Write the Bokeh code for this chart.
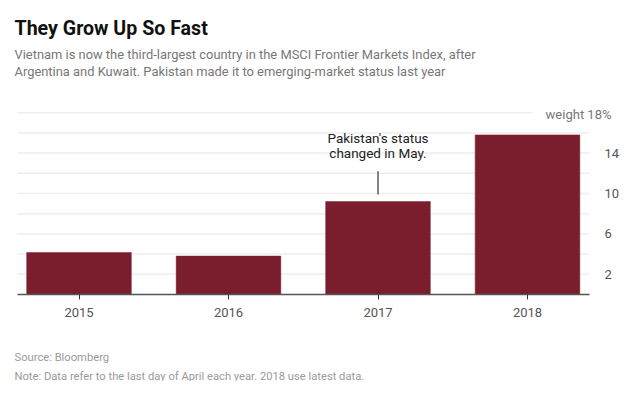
from bokeh.plotting import figure
from bokeh.models import Range1d, FixedTicker, Label
from bokeh.embed import file_html
from bokeh.resources import INLINE

years = ["2015", "2016", "2017", "2018"]
weights = [4.15, 3.8, 9.2, 15.8]
y_ticks = [2, 6, 10, 14]
grid_ticks = [2, 4, 6, 8, 10, 12, 14, 16]
y_top_tick = 18
note_year_index = 2
note_line = [9.9, 12.2]

title = "They Grow Up So Fast"
subtitle = ["Vietnam is now the third-largest country in the MSCI Frontier Markets Index, after",
            "Argentina and Kuwait. Pakistan made it to emerging-market status last year"]
annotation = ["Pakistan's status", "changed in May."]
unit_label = "weight 18%"
source = "Source: Bloomberg"
note = "Note: Data refer to the last day of April each year. 2018 use latest data."

FONT = "Roboto"
BAR = "#7a1e2e"
W, H = 624, 381

# pixel geometry of the chart area (canvas px, y from top)
PL, PR = 17, 589          # plot area left/right
BASE = 294.0              # y = 0 baseline
PX_UNIT = 10.1            # px per percentage point
STEP = 149.5              # px between bar centres
C0 = 78.5                 # first bar centre

xs = list(range(len(years)))
x_start = -C0 / STEP
x_end = (W - C0) / STEP
x_left = (PL - C0) / STEP
x_right = (PR - C0) / STEP
y_start = (BASE - H) / PX_UNIT
y_end = BASE / PX_UNIT

p = figure(width=W, height=H, output_backend="svg", toolbar_location=None,
           x_range=Range1d(x_start, x_end), y_range=Range1d(y_start, y_end),
           y_axis_location="right", min_border=0)
p.min_border_left = p.min_border_right = p.min_border_top = p.min_border_bottom = 0
p.outline_line_color = None
p.grid.visible = False

# gridlines
n = len(grid_ticks)
p.segment(x0=[x_left] * n, y0=grid_ticks, x1=[x_right] * n, y1=grid_ticks,
          line_color="#eeeeee", line_width=1.5)
p.segment(x0=[x_left], y0=[y_top_tick], x1=[(532 - C0) / STEP], y1=[y_top_tick],
          line_color="#eeeeee", line_width=1.5)

p.vbar(x=xs, top=weights, bottom=0, width=0.7, fill_color=BAR, line_color=BAR, line_width=0.5)

# annotation
p.segment(x0=[note_year_index], y0=[note_line[0]], x1=[note_year_index], y1=[note_line[1]],
          line_color="#333333", line_width=1.2)


def sy(py):
    return H - py


for i, t in enumerate(annotation):
    p.add_layout(Label(x=note_year_index, y=sy(137.7 + 15 * i), y_units="screen", text=t,
                       text_align="center", text_baseline="middle",
                       text_font=FONT, text_font_size="13.5px", text_color="#222222"))

# x axis
p.xaxis.fixed_location = 0
p.xaxis.bounds = (x_left, x_right)
p.xaxis.ticker = FixedTicker(ticks=xs)
p.xaxis.major_label_overrides = {i: y for i, y in zip(xs, years)}
p.xaxis.axis_line_color = "#555555"
p.xaxis.axis_line_width = 1.3
p.xaxis.major_tick_line_color = "#333333"
p.xaxis.major_tick_in = 0
p.xaxis.major_tick_out = 5
p.xaxis.minor_tick_line_color = None
p.xaxis.major_label_text_font = FONT
p.xaxis.major_label_text_font_size = "13px"
p.xaxis.major_label_text_color = "#555555"
p.xaxis.major_label_standoff = 8

# y axis (right)
p.yaxis.fixed_location = x_right
p.yaxis.ticker = FixedTicker(ticks=y_ticks)
p.yaxis.axis_line_color = None
p.yaxis.major_tick_line_color = None
p.yaxis.minor_tick_line_color = None
p.yaxis.major_label_text_font = FONT
p.yaxis.major_label_text_font_size = "13px"
p.yaxis.major_label_text_color = "#555555"
p.yaxis.major_label_standoff = 9

p.add_layout(Label(x=611, y=sy(114), x_units="screen", y_units="screen",
                   text=unit_label, text_align="right", text_baseline="middle",
                   text_font=FONT, text_font_size="13px", text_color="#777777"))

# titles and notes
p.add_layout(Label(x=14, y=sy(28.3), x_units="screen", y_units="screen", text=title,
                   text_font=FONT, text_font_style="bold", text_font_size="19.6px",
                   text_color="#111111", text_baseline="middle"))
for i, t in enumerate(subtitle):
    p.add_layout(Label(x=14, y=sy(53.8 + 17.2 * i), x_units="screen", y_units="screen",
                       text=t, text_font=FONT, text_font_size="12.9px", text_color="#777777",
                       text_baseline="middle"))
p.add_layout(Label(x=14, y=sy(356.5), x_units="screen", y_units="screen", text=source,
                   text_font=FONT, text_font_size="11.2px", text_color="#9a9a9a",
                   text_baseline="middle"))
p.add_layout(Label(x=14, y=sy(375.5), x_units="screen", y_units="screen", text=note,
                   text_font=FONT, text_font_size="11.2px", text_color="#9a9a9a",
                   text_baseline="middle"))

open("out.html", "w").write(file_html(p, INLINE))
